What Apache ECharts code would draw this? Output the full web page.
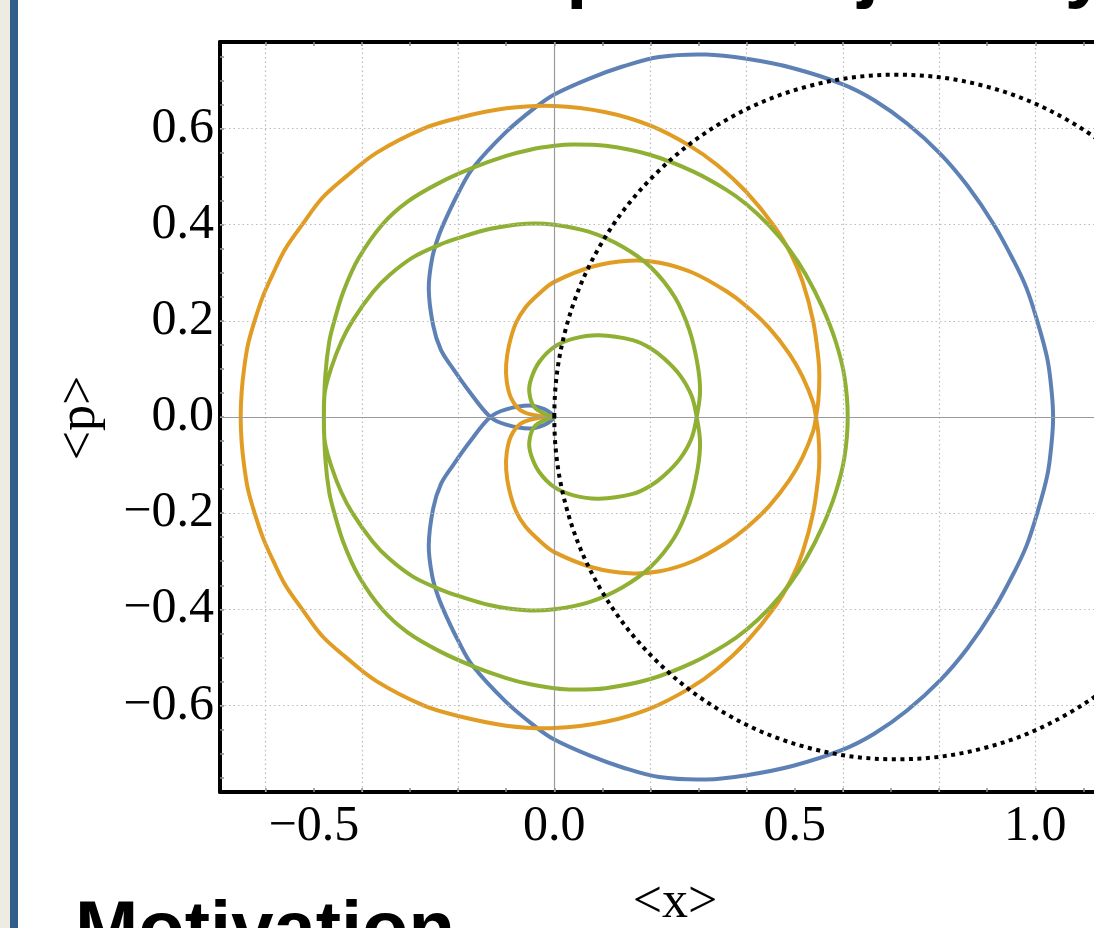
<!DOCTYPE html>
<html>
<head>
<meta charset="utf-8">
<script src="https://cdn.jsdelivr.net/npm/echarts@6/dist/echarts.min.js"></script>
<style>
  html, body { margin: 0; padding: 0; background: #fff; }
  #chart { width: 1094px; height: 928px; }
</style>
</head>
<body>
<div id="chart"></div>
<script>
// tick / grid values
const xTicks = [-0.6, -0.5, -0.4, -0.3, -0.2, -0.1, 0, 0.1, 0.2, 0.3, 0.4, 0.5, 0.6, 0.7, 0.8, 0.9, 1.0, 1.1]
const xLabels = [-0.5, 0, 0.5, 1.0]
const yTicks = [-0.75, -0.7, -0.65, -0.6, -0.55, -0.5, -0.45, -0.4, -0.35, -0.3, -0.25, -0.2, -0.15, -0.1, -0.05, 0,
  0.05, 0.1, 0.15, 0.2, 0.25, 0.3, 0.35, 0.4, 0.45, 0.5, 0.55, 0.6, 0.65, 0.7, 0.75]
const yLabels = [-0.6, -0.4, -0.2, 0, 0.2, 0.4, 0.6]
const xGrid = [-0.6, -0.4, -0.2, 0.2, 0.4, 0.6, 0.8, 1.0]
const yGrid = [-0.6, -0.4, -0.2, 0.2, 0.4, 0.6]

// trajectories as [<x>, <p>], in drawing order
const blueCurve = [
  [0, 0], [-0.005, 0.006], [-0.020, 0.016], [-0.052, 0.024], [-0.100, 0.016], [-0.133, 0],
  [-0.176, -0.052], [-0.211, -0.101], [-0.236, -0.140], [-0.252, -0.191], [-0.261, -0.267], [-0.254, -0.330],
  [-0.241, -0.375], [-0.222, -0.420], [-0.200, -0.465], [-0.170, -0.517], [-0.100, -0.593], [-0.038, -0.645],
  [0, -0.671], [0.073, -0.704], [0.142, -0.729], [0.218, -0.749], [0.316, -0.754], [0.400, -0.745],
  [0.495, -0.726], [0.600, -0.692], [0.665, -0.659], [0.734, -0.610], [0.802, -0.548], [0.859, -0.481],
  [0.914, -0.400], [0.956, -0.323], [0.982, -0.267], [1.003, -0.203], [1.025, -0.121], [1.034, -0.052], [1.037, 0],
  [1.034, 0.052], [1.025, 0.121], [1.003, 0.203], [0.982, 0.267], [0.956, 0.323], [0.914, 0.400],
  [0.859, 0.481], [0.802, 0.548], [0.734, 0.610], [0.665, 0.659], [0.600, 0.692], [0.495, 0.726],
  [0.400, 0.745], [0.316, 0.754], [0.218, 0.749], [0.142, 0.729], [0.073, 0.704], [0, 0.671],
  [-0.038, 0.645], [-0.100, 0.593], [-0.170, 0.517], [-0.200, 0.465], [-0.222, 0.420], [-0.241, 0.375],
  [-0.254, 0.330], [-0.261, 0.267], [-0.252, 0.191], [-0.236, 0.140], [-0.211, 0.101], [-0.176, 0.052], [-0.133, 0],
  [-0.100, -0.016], [-0.052, -0.024], [-0.020, -0.016], [-0.005, -0.006], [0, 0]
]

const orangeCurve = [
  [0, 0], [-0.038, 0.003], [-0.070, 0.014], [-0.090, 0.040], [-0.099, 0.075], [-0.100, 0.110],
  [-0.094, 0.150], [-0.080, 0.195], [-0.060, 0.228], [-0.030, 0.258], [0, 0.281], [0.080, 0.313],
  [0.156, 0.325], [0.219, 0.321], [0.288, 0.300], [0.357, 0.262], [0.400, 0.230], [0.447, 0.185],
  [0.489, 0.131], [0.516, 0.084], [0.538, 0.030], [0.544, 0],
  [0.549, -0.035], [0.551, -0.084], [0.549, -0.122], [0.538, -0.200], [0.516, -0.282], [0.492, -0.339],
  [0.457, -0.397], [0.400, -0.467], [0.340, -0.523], [0.282, -0.564], [0.200, -0.606], [0.107, -0.634],
  [0, -0.647], [-0.100, -0.642], [-0.200, -0.622], [-0.272, -0.600], [-0.369, -0.550], [-0.433, -0.500],
  [-0.483, -0.455], [-0.524, -0.400], [-0.559, -0.350], [-0.584, -0.300], [-0.605, -0.253], [-0.623, -0.200],
  [-0.637, -0.150], [-0.645, -0.100], [-0.650, -0.052], [-0.652, 0],
  [-0.650, 0.052], [-0.645, 0.100], [-0.637, 0.150], [-0.623, 0.200], [-0.605, 0.253], [-0.584, 0.300],
  [-0.559, 0.350], [-0.524, 0.400], [-0.483, 0.455], [-0.433, 0.500], [-0.369, 0.550], [-0.272, 0.600],
  [-0.200, 0.622], [-0.100, 0.642], [0, 0.647], [0.107, 0.634], [0.200, 0.606], [0.282, 0.564],
  [0.340, 0.523], [0.400, 0.467], [0.457, 0.397], [0.492, 0.339], [0.516, 0.282], [0.538, 0.200],
  [0.549, 0.122], [0.551, 0.084], [0.549, 0.035], [0.544, 0],
  [0.538, -0.030], [0.516, -0.084], [0.489, -0.131], [0.447, -0.185], [0.400, -0.230], [0.357, -0.262],
  [0.288, -0.300], [0.219, -0.321], [0.156, -0.325], [0.080, -0.313], [0, -0.281], [-0.030, -0.258],
  [-0.060, -0.228], [-0.080, -0.195], [-0.094, -0.150], [-0.100, -0.110], [-0.099, -0.075], [-0.090, -0.040],
  [-0.070, -0.014], [-0.038, -0.003], [0, 0]
]

const greenCurve = [
  [0, 0], [-0.017, 0.005], [-0.042, 0.021], [-0.052, 0.052], [-0.048, 0.080], [-0.031, 0.115],
  [0, 0.146], [0.040, 0.163], [0.093, 0.170], [0.163, 0.160], [0.200, 0.143], [0.230, 0.120],
  [0.261, 0.087], [0.285, 0.045], [0.296, 0],
  [0.303, -0.052], [0.298, -0.108], [0.281, -0.180], [0.250, -0.250], [0.200, -0.312], [0.142, -0.354],
  [0.073, -0.385], [0, -0.400], [-0.059, -0.402], [-0.135, -0.391], [-0.200, -0.372], [-0.239, -0.358],
  [-0.294, -0.332], [-0.343, -0.295], [-0.377, -0.260], [-0.419, -0.201], [-0.443, -0.156], [-0.463, -0.104],
  [-0.477, -0.052], [-0.479, 0],
  [-0.476, 0.087], [-0.468, 0.156], [-0.457, 0.201], [-0.438, 0.262], [-0.407, 0.330], [-0.357, 0.401],
  [-0.305, 0.448], [-0.239, 0.487], [-0.170, 0.518], [-0.100, 0.543], [-0.050, 0.556], [0, 0.564],
  [0.038, 0.567], [0.107, 0.564], [0.200, 0.545], [0.288, 0.511], [0.357, 0.473], [0.400, 0.442],
  [0.447, 0.398], [0.489, 0.348], [0.523, 0.296], [0.558, 0.227], [0.585, 0.157], [0.603, 0.085], [0.610, 0],
  [0.603, -0.085], [0.585, -0.157], [0.558, -0.227], [0.523, -0.296], [0.489, -0.348], [0.447, -0.398],
  [0.400, -0.442], [0.357, -0.473], [0.288, -0.511], [0.200, -0.545], [0.107, -0.564], [0.038, -0.567],
  [0, -0.564], [-0.050, -0.556], [-0.100, -0.543], [-0.170, -0.518], [-0.239, -0.487], [-0.305, -0.448],
  [-0.357, -0.401], [-0.407, -0.330], [-0.438, -0.262], [-0.457, -0.201], [-0.468, -0.156], [-0.476, -0.087], [-0.479, 0],
  [-0.477, 0.052], [-0.463, 0.104], [-0.443, 0.156], [-0.419, 0.201], [-0.377, 0.260], [-0.343, 0.295],
  [-0.294, 0.332], [-0.239, 0.358], [-0.200, 0.372], [-0.135, 0.391], [-0.059, 0.402], [0, 0.400],
  [0.073, 0.385], [0.142, 0.354], [0.200, 0.312], [0.250, 0.250], [0.281, 0.180], [0.298, 0.108],
  [0.303, 0.052], [0.296, 0],
  [0.285, -0.045], [0.261, -0.087], [0.230, -0.120], [0.200, -0.143], [0.163, -0.160], [0.093, -0.170],
  [0.040, -0.163], [0, -0.146], [-0.031, -0.115], [-0.048, -0.080], [-0.052, -0.052], [-0.042, -0.021],
  [-0.017, -0.005], [0, 0]
]

// classical orbit (dotted)
const circleCurve = [
  [0, 0], [0.024, 0.184], [0.095, 0.356], [0.209, 0.504], [0.356, 0.617], [0.528, 0.688], [0.712, 0.712],
  [0.896, 0.688], [1.068, 0.617], [1.216, 0.504], [1.329, 0.356], [1.400, 0.184], [1.424, 0],
  [1.400, -0.184], [1.329, -0.356], [1.216, -0.504], [1.068, -0.617], [0.896, -0.688], [0.712, -0.712],
  [0.528, -0.688], [0.356, -0.617], [0.209, -0.504], [0.095, -0.356], [0.024, -0.184], [0, 0]
]

const serif = '"Liberation Serif", "DejaVu Serif", serif'
const fmt = (v) => (v < -1e-9 ? '\u2212' : '') + Math.abs(v).toFixed(1)

// smooth path through pixel points (cusp at the ends unless closed)
function smoothPath(pts, closed) {
  const n = pts.length
  const dist = (a, b) => Math.hypot(b[0] - a[0], b[1] - a[1]) || 1e-6
  const tan = pts.map((p, i) => {
    let prev = pts[i - 1]
    let next = pts[i + 1]
    if (closed && i === 0) prev = pts[n - 2]
    if (closed && i === n - 1) next = pts[1]
    if (!prev || !next) return null
    return { vx: next[0] - prev[0], vy: next[1] - prev[1], d0: dist(prev, p), d1: dist(p, next) }
  })
  const s = 0.35
  let d = 'M' + pts[0][0] + ',' + pts[0][1]
  for (let i = 0; i < n - 1; i++) {
    const p = pts[i]
    const q = pts[i + 1]
    let c1 = p
    let c2 = q
    const tp = tan[i]
    const tq = tan[i + 1]
    if (tp) {
      const r = (s * tp.d1) / (tp.d0 + tp.d1)
      c1 = [p[0] + tp.vx * r, p[1] + tp.vy * r]
    }
    if (tq) {
      const r = (s * tq.d0) / (tq.d0 + tq.d1)
      c2 = [q[0] - tq.vx * r, q[1] - tq.vy * r]
    }
    d += 'C' + c1[0] + ',' + c1[1] + ',' + c2[0] + ',' + c2[1] + ',' + q[0] + ',' + q[1]
  }
  return d
}

const curve = (name, data, color, z, dash, closed) => ({
  name,
  type: 'custom',
  coordinateSystem: 'cartesian2d',
  z,
  silent: true,
  data: [[0, 0]],
  renderItem: (params, api) => {
    const px = data.map((p) => api.coord(p))
    return {
      type: 'path',
      shape: { pathData: smoothPath(px, closed) },
      style: {
        fill: 'none',
        stroke: color,
        lineWidth: 4,
        lineDash: dash || null,
        lineCap: dash ? 'butt' : 'round',
        lineJoin: 'round',
      },
    }
  },
})

const chart = echarts.init(document.getElementById('chart'))

const tickStyle = { color: '#8a8a8a', width: 1.5 }
const frameStyle = { color: '#000', width: 4 }

const option = {
  backgroundColor: '#fff',
  animation: false,
  grid: { left: 220, top: 42, width: 874, height: 750 },
  xAxis: [
    {
      type: 'value',
      position: 'bottom',
      min: -0.695,
      max: 1.122,
      axisLine: { onZero: false, lineStyle: frameStyle },
      axisTick: { inside: true, length: 4, customValues: xTicks, lineStyle: tickStyle },
      axisLabel: {
        customValues: xLabels,
        formatter: fmt,
        margin: 10,
        color: '#000',
        fontFamily: serif,
        fontSize: 50,
      },
      splitLine: { show: false },
    },
    {
      type: 'value',
      position: 'top',
      min: -0.695,
      max: 1.122,
      axisLine: { onZero: false, lineStyle: frameStyle },
      axisTick: { inside: true, length: 4, customValues: xTicks, lineStyle: tickStyle },
      axisLabel: { show: false },
      splitLine: { show: false },
    },
  ],
  yAxis: [
    {
      type: 'value',
      position: 'left',
      min: -0.78,
      max: 0.78,
      axisLine: { onZero: false, lineStyle: frameStyle },
      axisTick: { inside: true, length: 4, customValues: yTicks, lineStyle: tickStyle },
      axisLabel: {
        customValues: yLabels,
        formatter: fmt,
        margin: 6,
        color: '#000',
        fontFamily: serif,
        fontSize: 50,
      },
      splitLine: { show: false },
    },
  ],
  series: [
    {
      name: 'grid',
      type: 'line',
      data: [],
      z: 1,
      silent: true,
      markLine: {
        silent: true,
        symbol: ['none', 'none'],
        label: { show: false },
        animation: false,
        lineStyle: { color: '#bcbcbc', width: 1.2, type: [1.5, 3] },
        data: [
          ...xGrid.map((v) => ({ xAxis: v })),
          ...yGrid.map((v) => ({ yAxis: v })),
          { xAxis: 0, lineStyle: { color: '#9a9a9a', width: 1.2, type: 'solid' } },
          { yAxis: 0, lineStyle: { color: '#9a9a9a', width: 1.2, type: 'solid' } },
        ],
      },
    },
    curve('blue', blueCurve, '#5E81B5', 2),
    curve('orange', orangeCurve, '#E19C24', 3),
    curve('green', greenCurve, '#8FB032', 4),
    curve('classical', circleCurve, '#000', 5, [4, 4.5], true),
  ],
  graphic: [
    { type: 'rect', left: 0, top: 0, shape: { width: 10, height: 928 }, style: { fill: '#eeebe3' }, silent: true },
    { type: 'rect', left: 10, top: 0, shape: { width: 8, height: 928 }, style: { fill: '#315d8b' }, silent: true },
    {
      type: 'text', x: 279, y: -28, silent: true,
      style: { text: 'Phase space trajectory', font: 'bold 76px "Liberation Sans", Arial, sans-serif', fill: '#000', verticalAlign: 'middle' },
    },
    {
      type: 'text', x: 75, y: 933, silent: true,
      style: { text: 'Motivation', font: 'bold 76px "Liberation Sans", Arial, sans-serif', fill: '#000', verticalAlign: 'middle' },
    },
    {
      type: 'text', x: 675, y: 903, silent: true,
      style: { text: '<x>', font: '52px ' + serif, fill: '#000', align: 'center', verticalAlign: 'middle' },
    },
    {
      type: 'text', x: 80, y: 418, rotation: Math.PI / 2, silent: true,
      style: { text: '<p>', font: '52px ' + serif, fill: '#000', align: 'center', verticalAlign: 'middle' },
    },
  ],
}

chart.setOption(option)
window.addEventListener('resize', () => chart.resize())
</script>
</body>
</html>
